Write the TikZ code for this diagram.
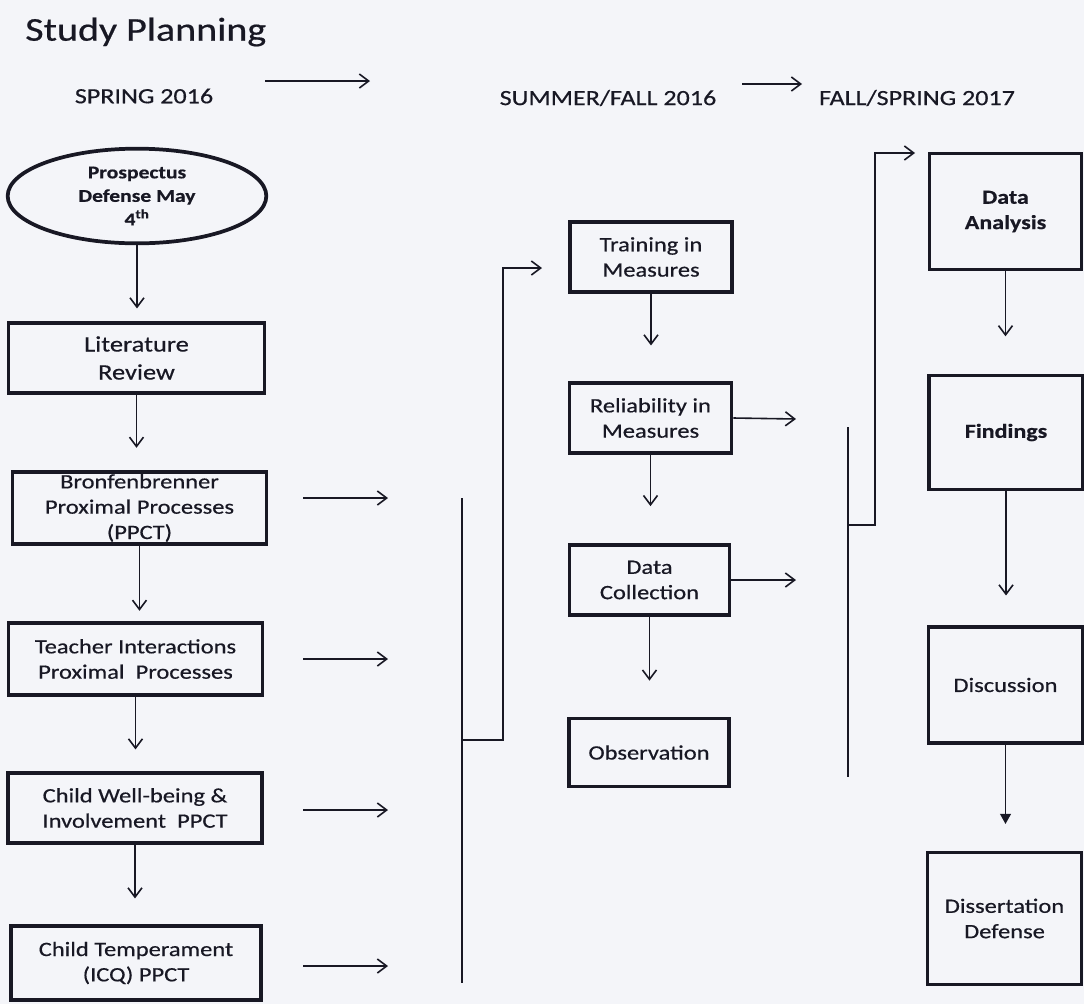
\documentclass[tikz,border=0pt]{standalone}
\usepackage{fontspec}
\setmainfont{Carlito}[FakeStretch=1.2,FakeBold=0.5]
\usetikzlibrary{arrows.meta,shapes.geometric}
\definecolor{bgc}{RGB}{244,245,249}
\definecolor{ink}{RGB}{24,24,36}
\begin{document}
\begin{tikzpicture}[x=0.75pt,y=-0.75pt,
  box/.style={draw=ink, line width=2.8pt, rectangle, inner sep=0pt, align=center, text=ink,
    font=\fontsize{15.3}{19}\selectfont},
  txt/.style={inner sep=0pt, align=center, text=ink, font=\fontsize{15.3}{19}\selectfont},
  hdr/.style={inner sep=0pt, text=ink, font=\fontsize{16.3}{19}\selectfont},
  conn/.style={draw=ink, line width=1.2pt},
  arr/.style={conn, -{Straight Barb[length=7pt,width=10.5pt,line width=1.2pt]}},
  farr/.style={conn, -{Triangle[length=7.5pt,width=8pt]}}
]
\fill[bgc] (0,0) rectangle (1084,1004);
\useasboundingbox (0,0) rectangle (1084,1004);

% title and headers
\node[anchor=west, inner sep=0pt, text=ink, font=\fontsize{25}{29}\selectfont] (title) at (25,32) {Study Planning};
\node[hdr] (spring) at (144,96) {SPRING 2016};
\node[hdr] (summer) at (608,98) {SUMMER/FALL 2016};
\node[hdr] (fallspr) at (917,98) {FALL/SPRING 2017};
\coordinate (h1s) at (265,81); \coordinate (h1e) at (370,81);
\coordinate (h2s) at (742,84); \coordinate (h2e) at (802,84);
\draw[arr] (h1s) -- (h1e);
\draw[arr] (h2s) -- (h2e);

% left column
\node[ellipse, draw=ink, line width=2.8pt, inner sep=0pt, minimum width=194pt, minimum height=71pt,
  align=center, text=ink, font=\bfseries\fontsize{13.5}{17.6}\selectfont] (prosp) at (137,196)
  {Prospectus\\Defense May\\4\textsuperscript{th}};
\node[box, minimum width=192pt, minimum height=52pt, font=\fontsize{16.5}{21}\selectfont] (lit) at (136.5,358) {Literature\\Review};
\node[box, minimum width=190.5pt, minimum height=53.5pt] (bron) at (139.5,508) {};
\node[txt] (bront) at (139.5,508) {Bronfenbrenner\\Proximal Processes\\(PPCT)};
\node[box, minimum width=190.5pt, minimum height=53.5pt] (teach) at (135.5,659) {Teacher Interactions\\Proximal\ \ Processes};
\node[box, minimum width=191pt, minimum height=52pt] (well) at (135,808) {Child Well-being \&\\Involvement\ \ PPCT};
\node[box, minimum width=188pt, minimum height=56pt] (temp) at (136,963) {Child Temperament\\(ICQ) PPCT};

\draw[arr, shorten >=9.75pt] (prosp.south) -- (prosp.south |- lit.north);
\draw[arr, shorten >=17pt] (lit.south) -- (lit.south |- bron.north);
\draw[arr, shorten >=8pt] (bron.south) -- (bron.south |- teach.north);
\draw[arr, shorten >=16.5pt] (teach.south) -- (teach.south |- well.north);
\draw[arr, shorten >=19pt] (well.south) -- (well.south |- temp.north);

% arrows out of left column
\coordinate (a1s) at (303,498); \coordinate (a1e) at (388,498);
\coordinate (a2s) at (303,659); \coordinate (a2e) at (388,659);
\coordinate (a3s) at (303,810); \coordinate (a3e) at (388,810);
\coordinate (a4s) at (303,966); \coordinate (a4e) at (388,966);
\draw[arr] (a1s) -- (a1e);
\draw[arr] (a2s) -- (a2e);
\draw[arr] (a3s) -- (a3e);
\draw[arr] (a4s) -- (a4e);

% left bracket
\coordinate (b1top) at (462,498); \coordinate (b1bot) at (462,983);
\coordinate (b1mid) at (462,740); \coordinate (trin) at (542,268);
\draw[conn] (b1top) -- (b1bot);
\draw[arr] (b1mid) -- ++(41,0) |- (trin);

% middle column
\node[box, minimum width=121pt, minimum height=52pt] (train) at (651,257) {Training in\\Measures};
\node[box, minimum width=121.5pt, minimum height=52pt] (rel) at (650.5,418) {Reliability in\\Measures};
\node[box, minimum width=120pt, minimum height=52pt] (coll) at (649.5,580) {Data\\Collection};
\node[box, minimum width=119.5pt, minimum height=51pt] (obs) at (649,752.5) {Observation};

\draw[arr, shorten >=27pt] (train.south) -- (train.south |- rel.north);
\draw[arr, shorten >=28pt] (rel.south) -- (rel.south |- coll.north);
\draw[arr, shorten >=27pt] (coll.south) -- (coll.south |- obs.north);

\coordinate (r1) at (796,419); \coordinate (r2) at (796,580);
\draw[arr] (rel.east) -- (r1);
\draw[arr] (coll.east) -- (r2);

% right bracket
\coordinate (b2top) at (848,427); \coordinate (b2bot) at (848,777);
\coordinate (b2mid) at (848,525); \coordinate (anin) at (915,153);
\draw[conn] (b2top) -- (b2bot);
\draw[arr] (b2mid) -- ++(27,0) |- (anin);

% right column
\node[box, minimum width=114pt, minimum height=87pt, font=\bfseries\fontsize{15}{19}\selectfont] (anal) at (1005.5,211.5) {Data\\Analysis};
\node[box, minimum width=115pt, minimum height=85.5pt, font=\bfseries\fontsize{15}{19}\selectfont] (find) at (1006,432.5) {Findings};
\node[box, minimum width=115.5pt, minimum height=86.5pt] (disc) at (1005.5,685) {Discussion};
\node[box, minimum width=115.5pt, minimum height=99pt] (diss) at (1004.5,918.5) {Dissertation\\Defense};

\draw[arr, shorten >=28pt] (anal.south) -- (anal.south |- find.north);
\draw[arr, shorten >=22.5pt] (find.south) -- (find.south |- disc.north);
\draw[farr, shorten >=20pt] (disc.south) -- (disc.south |- diss.north);
\end{tikzpicture}
\end{document}
